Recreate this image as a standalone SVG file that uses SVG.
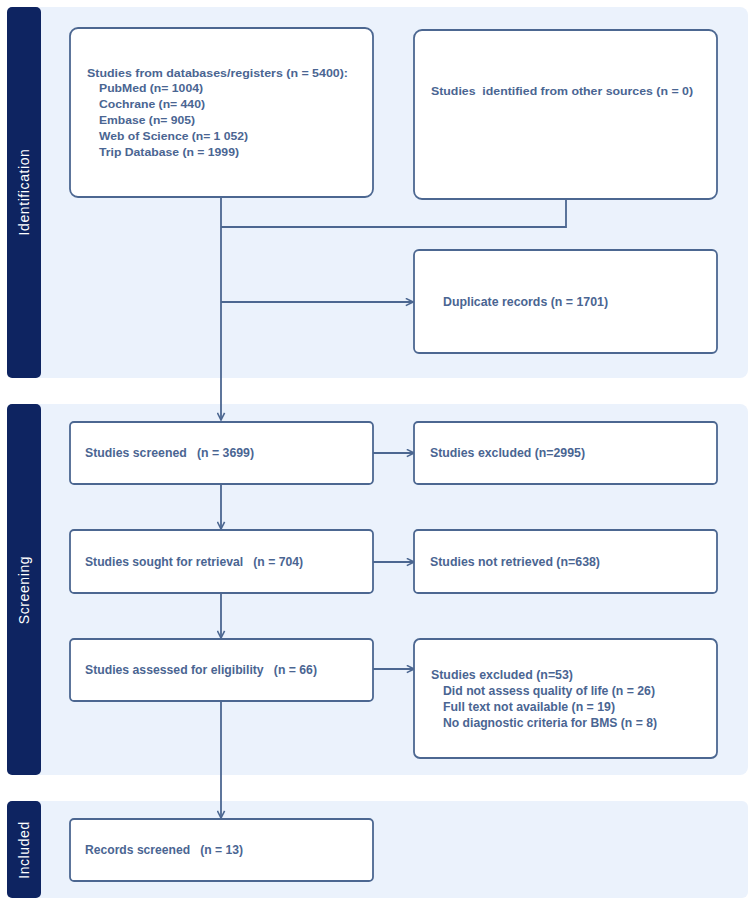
<svg xmlns="http://www.w3.org/2000/svg" width="750" height="904" viewBox="0 0 750 904">
<defs>
<style>
.band{fill:#EBF2FC}
.side{fill:#0E2461}
.box{fill:#FFFFFF;stroke:#4C6791;stroke-width:1.8}
.t{font-family:"Liberation Sans",Arial,sans-serif;font-weight:bold;fill:#4A6592;font-size:11.5px;white-space:pre}
.n{font-family:"Liberation Sans",Arial,sans-serif;font-weight:bold;fill:#4A6592;font-size:13px;white-space:pre}
.lab{font-family:"Liberation Sans",Arial,sans-serif;fill:#FFFFFF;font-size:14px;letter-spacing:0.6px}
.c{fill:none;stroke:#4C6791;stroke-width:1.8}
</style>
<marker id="ah" viewBox="0 0 10 10" refX="9" refY="5" markerWidth="9" markerHeight="9" markerUnits="userSpaceOnUse" orient="auto">
<path d="M1,1 L9,5 L1,9" fill="none" stroke="#4C6791" stroke-width="1.8"/>
</marker>
</defs>
<rect width="750" height="904" fill="#FFFFFF"/>
<g id="band-identification">
<rect class="band" x="7" y="7" width="741" height="371" rx="8"/>
<rect class="side" x="7" y="7" width="34" height="371" rx="5"/>
<text class="lab" transform="translate(29,192) rotate(-90)" text-anchor="middle">Identification</text>
</g>
<g id="band-screening">
<rect class="band" x="7" y="404" width="741" height="371" rx="8"/>
<rect class="side" x="7" y="404" width="34" height="371" rx="5"/>
<text class="lab" transform="translate(29,590) rotate(-90)" text-anchor="middle">Screening</text>
</g>
<g id="band-included">
<rect class="band" x="7" y="801" width="741" height="97" rx="6"/>
<rect class="side" x="7" y="801" width="34" height="97" rx="5"/>
<text class="lab" transform="translate(29,850) rotate(-90)" text-anchor="middle">Included</text>
</g>
<g id="connectors">
<path class="c" d="M221,197 L221,420" marker-end="url(#ah)"/>
<path class="c" d="M566,199 L566,227 L221,227"/>
<path class="c" d="M221,302 L413,302" marker-end="url(#ah)"/>
<path class="c" d="M373,453 L414,453" marker-end="url(#ah)"/>
<path class="c" d="M221,484 L221,529" marker-end="url(#ah)"/>
<path class="c" d="M373,562 L414,562" marker-end="url(#ah)"/>
<path class="c" d="M221,593 L221,638" marker-end="url(#ah)"/>
<path class="c" d="M373,669 L414,669" marker-end="url(#ah)"/>
<path class="c" d="M221,701 L221,818" marker-end="url(#ah)"/>
</g>
<g id="node-databases">
<rect class="box" x="70" y="28" width="303" height="169" rx="8"/>
<text class="t" x="87" y="77" textLength="261" lengthAdjust="spacingAndGlyphs">Studies from databases/registers (n = 5400):</text>
<text class="t" x="99" y="92" textLength="104" lengthAdjust="spacingAndGlyphs">PubMed (n= 1004)</text>
<text class="t" x="99" y="108" textLength="106" lengthAdjust="spacingAndGlyphs">Cochrane (n= 440)</text>
<text class="t" x="99" y="124" textLength="96" lengthAdjust="spacingAndGlyphs">Embase (n= 905)</text>
<text class="t" x="99" y="140" textLength="149" lengthAdjust="spacingAndGlyphs">Web of Science (n= 1 052)</text>
<text class="t" x="99" y="156" textLength="140" lengthAdjust="spacingAndGlyphs">Trip Database (n = 1999)</text>
</g>
<g id="node-other">
<rect class="box" x="414" y="30" width="303" height="169" rx="8"/>
<text class="t" x="431" y="95" textLength="262" lengthAdjust="spacingAndGlyphs">Studies  identified from other sources (n = 0)</text>
</g>
<g id="node-duplicates">
<rect class="box" x="414" y="250" width="303" height="103" rx="5"/>
<text class="n" x="443" y="306" textLength="165" lengthAdjust="spacingAndGlyphs">Duplicate records (n = 1701)</text>
</g>
<g id="node-screened">
<rect class="box" x="70" y="422" width="303" height="62" rx="4"/>
<text class="n" x="85" y="457" textLength="169" lengthAdjust="spacingAndGlyphs">Studies screened   (n = 3699)</text>
</g>
<g id="node-excluded1">
<rect class="box" x="414" y="422" width="303" height="62" rx="4"/>
<text class="n" x="430" y="457" textLength="155" lengthAdjust="spacingAndGlyphs">Studies excluded (n=2995)</text>
</g>
<g id="node-sought">
<rect class="box" x="70" y="530" width="303" height="63" rx="4"/>
<text class="n" x="85" y="566" textLength="218" lengthAdjust="spacingAndGlyphs">Studies sought for retrieval   (n = 704)</text>
</g>
<g id="node-notretrieved">
<rect class="box" x="414" y="530" width="303" height="63" rx="4"/>
<text class="n" x="430" y="566" textLength="170" lengthAdjust="spacingAndGlyphs">Studies not retrieved (n=638)</text>
</g>
<g id="node-assessed">
<rect class="box" x="70" y="639" width="303" height="62" rx="4"/>
<text class="n" x="85" y="674" textLength="232" lengthAdjust="spacingAndGlyphs">Studies assessed for eligibility   (n = 66)</text>
</g>
<g id="node-excluded2">
<rect class="box" x="414" y="639" width="303" height="119" rx="6"/>
<text class="n" x="431" y="679" textLength="142" lengthAdjust="spacingAndGlyphs">Studies excluded (n=53)</text>
<text class="n" x="443" y="695" textLength="212" lengthAdjust="spacingAndGlyphs">Did not assess quality of life (n = 26)</text>
<text class="n" x="443" y="711" textLength="172" lengthAdjust="spacingAndGlyphs">Full text not available (n = 19)</text>
<text class="n" x="443" y="727" textLength="214" lengthAdjust="spacingAndGlyphs">No diagnostic criteria for BMS (n = 8)</text>
</g>
<g id="node-included">
<rect class="box" x="70" y="819" width="303" height="62" rx="4"/>
<text class="n" x="85" y="854" textLength="158" lengthAdjust="spacingAndGlyphs">Records screened   (n = 13)</text>
</g>
</svg>
